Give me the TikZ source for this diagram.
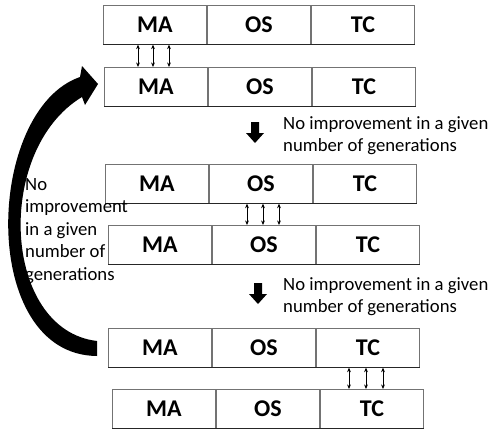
\documentclass[tikz,border=0pt]{standalone}
\usepackage{fontspec}
\setmainfont{Carlito}
\usetikzlibrary{calc,arrows.meta}

\begin{document}
\begin{tikzpicture}[x=1pt,y=-1pt,>={Stealth[length=4.5pt,width=3.8pt]}]
        % --- 1. Define Styles ---
        \tikzset{
            cell/.style={draw=black!55,line width=0.7pt,minimum width=103.3pt,minimum height=39pt,
                inner sep=0pt,font=\fontsize{24}{24}\selectfont\bfseries},
            shade line/.style={black!85,line width=1.4pt},
            swap/.style={<->,line width=0.6pt},
            note/.style={align=left,inner sep=0pt,font=\fontsize{18.7}{22.5}\selectfont},
            block/.style={fill=black}
        }
        \useasboundingbox (0,0) rectangle (499,431);

        % --- 2. Rows of Cells ---
        \node[cell,anchor=north west] (r1ma) at (103,5) {MA};
        \node[cell,anchor=west] (r1os) at (r1ma.east) {OS};
        \node[cell,anchor=west] (r1tc) at (r1os.east) {TC};

        \node[cell,anchor=north west] (r2ma) at (104,67) {MA};
        \node[cell,anchor=west] (r2os) at (r2ma.east) {OS};
        \node[cell,anchor=west] (r2tc) at (r2os.east) {TC};

        \node[cell,anchor=north west] (r3ma) at (105,164) {MA};
        \node[cell,anchor=west] (r3os) at (r3ma.east) {OS};
        \node[cell,anchor=west] (r3tc) at (r3os.east) {TC};

        \node[cell,anchor=north west] (r4ma) at (108,225) {MA};
        \node[cell,anchor=west] (r4os) at (r4ma.east) {OS};
        \node[cell,anchor=west] (r4tc) at (r4os.east) {TC};

        \node[cell,anchor=north west] (r5ma) at (108,328) {MA};
        \node[cell,anchor=west] (r5os) at (r5ma.east) {OS};
        \node[cell,anchor=west] (r5tc) at (r5os.east) {TC};

        \node[cell,anchor=north west] (r6ma) at (112,389) {MA};
        \node[cell,anchor=west] (r6os) at (r6ma.east) {OS};
        \node[cell,anchor=west] (r6tc) at (r6os.east) {TC};

        % bottom shadow of each row
        \draw[shade line] (r1ma.south west) -- (r1tc.south east);
        \draw[shade line] (r2ma.south west) -- (r2tc.south east);
        \draw[shade line] (r3ma.south west) -- (r3tc.south east);
        \draw[shade line] (r4ma.south west) -- (r4tc.south east);
        \draw[shade line] (r5ma.south west) -- (r5tc.south east);
        \draw[shade line] (r6ma.south west) -- (r6tc.south east);

        % --- 3. Exchange Arrows ---
        \coordinate (a1) at ($(r1ma.south)+(-17,0)$);
        \coordinate (a2) at ($(r1ma.south)+(-2,0)$);
        \coordinate (a3) at ($(r1ma.south)+(14,0)$);
        \draw[swap] (a1) -- (a1 |- r2ma.north);
        \draw[swap] (a2) -- (a2 |- r2ma.north);
        \draw[swap] (a3) -- (a3 |- r2ma.north);

        \coordinate (b1) at ($(r3os.south)+(-14,0)$);
        \coordinate (b2) at ($(r3os.south)+(2,0)$);
        \coordinate (b3) at ($(r3os.south)+(18,0)$);
        \draw[swap] (b1) -- (b1 |- r4os.north);
        \draw[swap] (b2) -- (b2 |- r4os.north);
        \draw[swap] (b3) -- (b3 |- r4os.north);

        \coordinate (c1) at ($(r5tc.south)+(-19,0)$);
        \coordinate (c2) at ($(r5tc.south)+(-2,0)$);
        \coordinate (c3) at ($(r5tc.south)+(15,0)$);
        \draw[swap] (c1) -- (c1 |- r6tc.north);
        \draw[swap] (c2) -- (c2 |- r6tc.north);
        \draw[swap] (c3) -- (c3 |- r6tc.north);

        % --- 4. Block Arrows Down ---
        \coordinate (D1) at (255,122);
        \fill[block] ($(D1)+(-4,0)$) -- ($(D1)+(4,0)$) -- ($(D1)+(4,11)$) -- ($(D1)+(9,11)$)
            -- ($(D1)+(0,21)$) -- ($(D1)+(-9,11)$) -- ($(D1)+(-4,11)$) -- cycle;
        \coordinate (D2) at (258,283);
        \fill[block] ($(D2)+(-4,0)$) -- ($(D2)+(4,0)$) -- ($(D2)+(4,11)$) -- ($(D2)+(9,11)$)
            -- ($(D2)+(0,21)$) -- ($(D2)+(-9,11)$) -- ($(D2)+(-4,11)$) -- cycle;

        \node[note,anchor=north west] (n1) at (283,116) {No improvement in a given\\number of generations};
        \node[note,anchor=north west] (n2) at (283,277) {No improvement in a given\\number of generations};

        % --- 5. Big Curved Arrow Back to the Top ---
        \fill[block] (97,341) .. controls (2,330) and (-6,150) .. (82,97) -- (85,105) -- (98,84)
            -- (82,66) -- (80,77) .. controls (-15,110) and (-22,355) .. (97,356) -- cycle;
        \node[note,anchor=north west] (n3) at (25,178) {No\\improvement\\in a given\\number of\\generations};
    \end{tikzpicture}
\end{document}
